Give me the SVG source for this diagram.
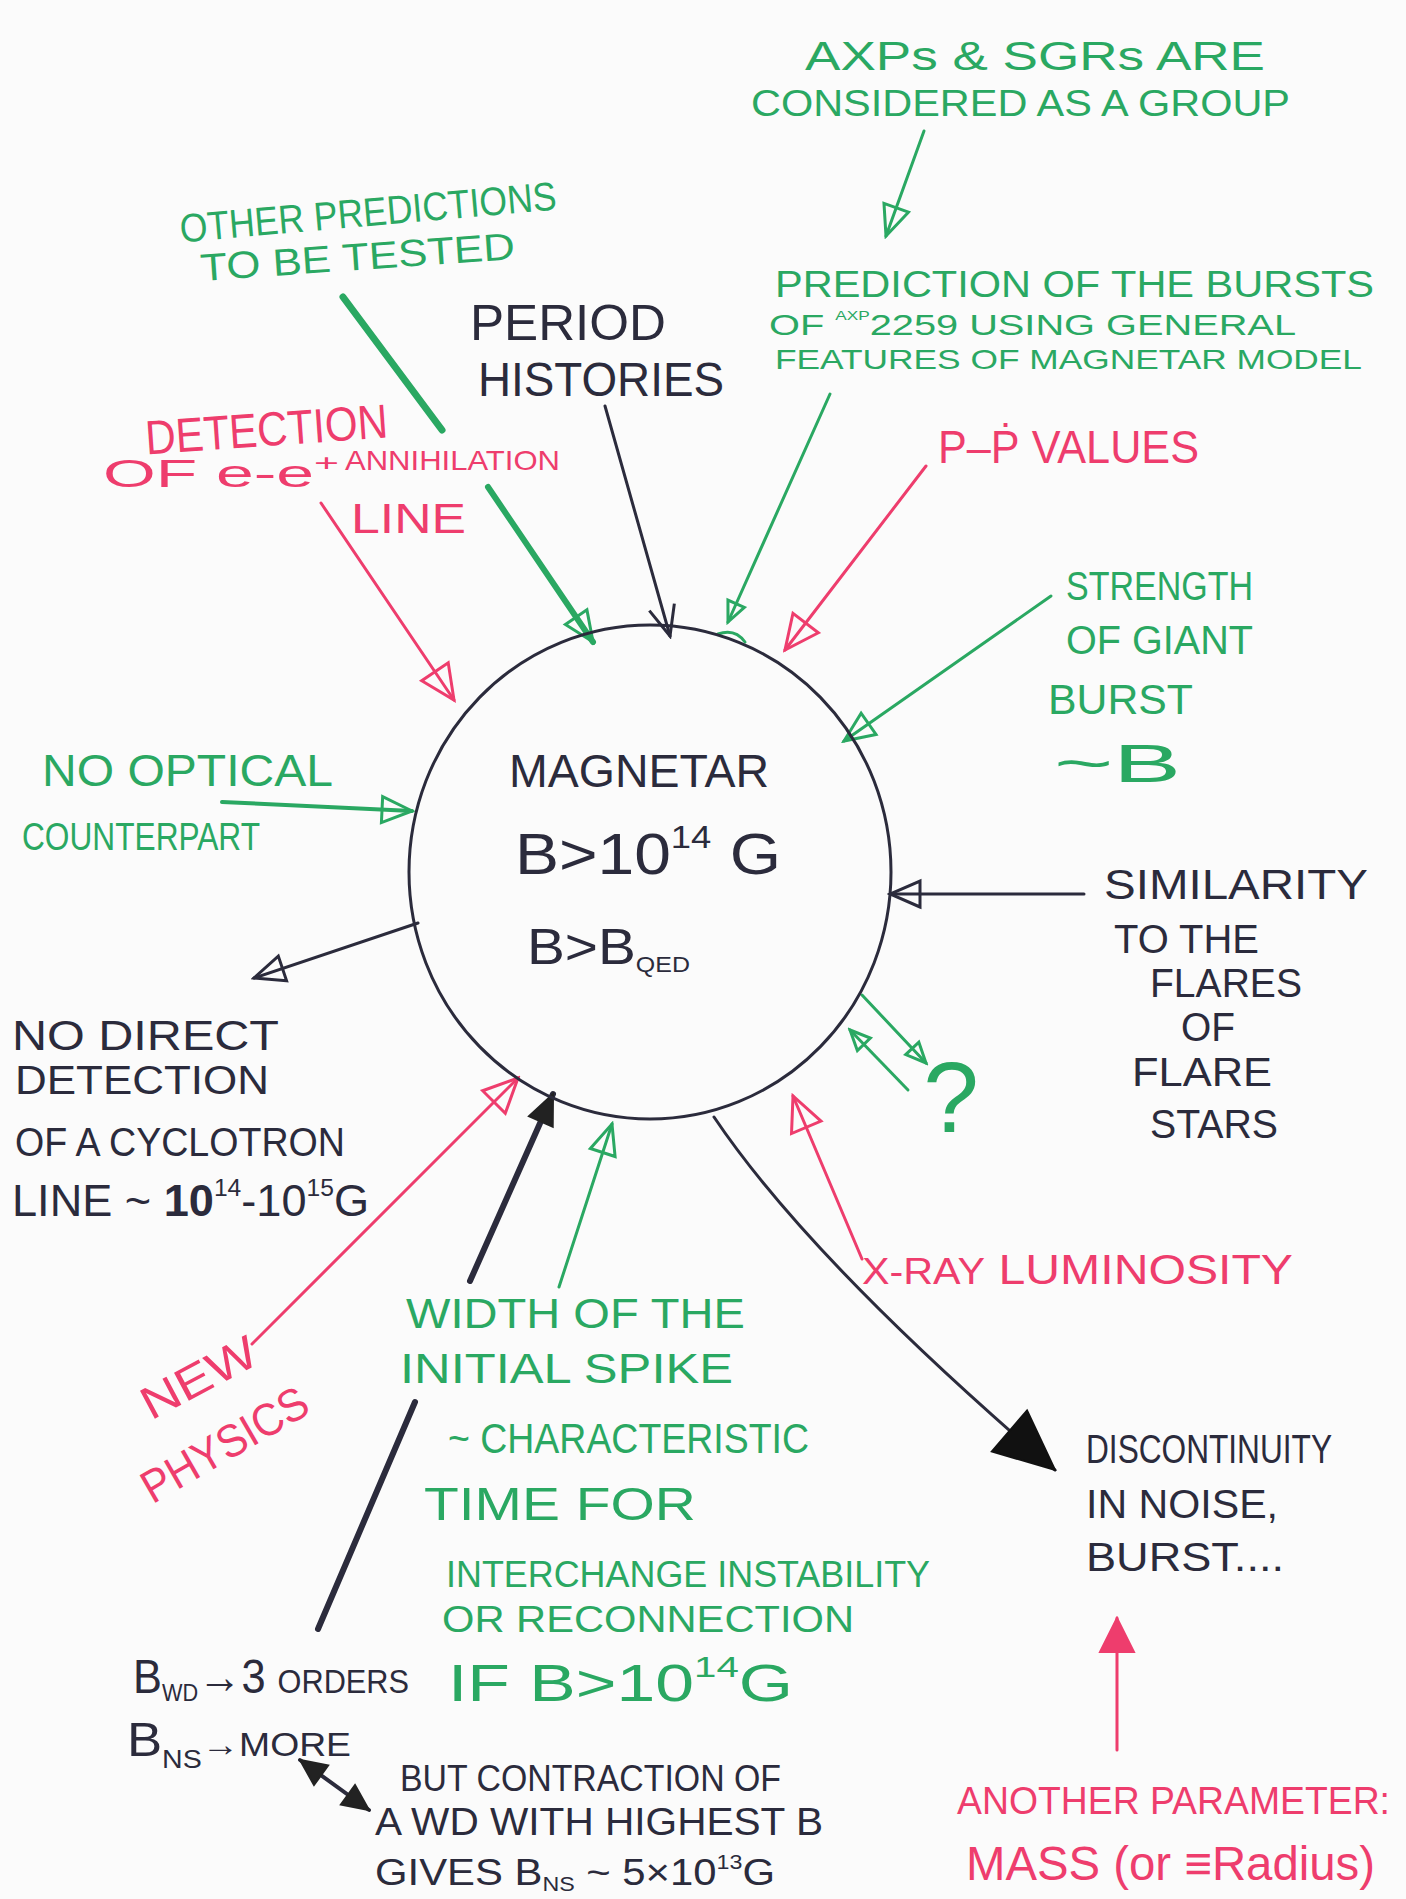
<svg xmlns="http://www.w3.org/2000/svg" width="1406" height="1899" viewBox="0 0 1406 1899">
<style>
text{font-family:"Liberation Sans","DejaVu Sans",Arial,sans-serif;}
.g{fill:#2aa862}
.r{fill:#ee3d6d}
.k{fill:#2b2b3c}
.lg{stroke:#2aa862;stroke-width:3;fill:none;stroke-linecap:round}
.lr{stroke:#ee3d6d;stroke-width:3;fill:none;stroke-linecap:round}
.lk{stroke:#2b2b3c;stroke-width:3;fill:none;stroke-linecap:round}
</style>
<defs>
<marker id="ag" viewBox="-3 -3 36 32" refX="30" refY="13" markerWidth="36" markerHeight="32" markerUnits="userSpaceOnUse" orient="auto"><path d="M0,0 L30,13 L0,26 Z" fill="none" stroke="#2aa862" stroke-width="3"/></marker>
<marker id="agS" viewBox="-3 -3 26 24" refX="20" refY="9" markerWidth="26" markerHeight="24" markerUnits="userSpaceOnUse" orient="auto"><path d="M0,0 L20,9 L0,18 Z" fill="none" stroke="#2aa862" stroke-width="3"/></marker>
<marker id="ar" viewBox="-3 -3 40 38" refX="34" refY="16" markerWidth="40" markerHeight="38" markerUnits="userSpaceOnUse" orient="auto"><path d="M0,0 L34,16 L0,32 Z" fill="none" stroke="#ee3d6d" stroke-width="3"/></marker>
<marker id="ak" viewBox="-3 -3 36 32" refX="30" refY="13" markerWidth="36" markerHeight="32" markerUnits="userSpaceOnUse" orient="auto"><path d="M0,0 L30,13 L0,26 Z" fill="none" stroke="#2b2b3c" stroke-width="3"/></marker>
<marker id="akv" viewBox="-3 -3 36 32" refX="30" refY="13" markerWidth="36" markerHeight="32" markerUnits="userSpaceOnUse" orient="auto"><path d="M0,0 L30,13 L0,26" fill="none" stroke="#2b2b3c" stroke-width="3"/></marker>
<marker id="akf" viewBox="-2 -2 64 58" refX="60" refY="27" markerWidth="64" markerHeight="58" markerUnits="userSpaceOnUse" orient="auto"><path d="M0,0 L60,27 L0,54 Z" fill="#111" stroke="#111" stroke-width="2"/></marker>
<marker id="akm" viewBox="-2 -2 34 30" refX="30" refY="13" markerWidth="34" markerHeight="30" markerUnits="userSpaceOnUse" orient="auto"><path d="M0,0 L30,13 L0,26 Z" fill="#222" stroke="#222" stroke-width="2"/></marker>
<marker id="akd" viewBox="-2 -2 30 28" refX="26" refY="12" markerWidth="30" markerHeight="28" markerUnits="userSpaceOnUse" orient="auto-start-reverse"><path d="M0,0 L26,12 L0,24 Z" fill="#222" stroke="#222" stroke-width="2"/></marker>
<marker id="arf" viewBox="-2 -2 40 38" refX="34" refY="17" markerWidth="40" markerHeight="38" markerUnits="userSpaceOnUse" orient="auto"><path d="M0,0 L34,17 L0,34 Z" fill="#ee3d6d" stroke="#ee3d6d" stroke-width="2"/></marker>
</defs>
<rect width="1406" height="1899" fill="#fbfbfb"/>

<g id="connectors">
<line class="lg" x1="924" y1="131" x2="886" y2="236" marker-end="url(#ag)"/>
<line class="lg" x1="830" y1="394" x2="728" y2="622" marker-end="url(#agS)"/>
<path class="lg" d="M718,634 Q735,628 745,642"/>
<line class="lg" x1="343" y1="297" x2="442" y2="430" style="stroke-width:7"/>
<line class="lg" x1="488" y1="487" x2="593" y2="642" style="stroke-width:6" marker-end="url(#ag)"/>
<line class="lk" x1="605" y1="406" x2="670" y2="636" marker-end="url(#akv)"/>
<line class="lr" x1="321" y1="503" x2="454" y2="700" marker-end="url(#ar)"/>
<line class="lr" x1="926" y1="466" x2="785" y2="650" marker-end="url(#ar)"/>
<line class="lg" x1="1051" y1="596" x2="844" y2="741" marker-end="url(#ag)"/>
<line class="lg" x1="222" y1="802" x2="412" y2="811" style="stroke-width:4" marker-end="url(#ag)"/>
<line class="lk" x1="418" y1="923" x2="254" y2="978" marker-end="url(#ak)"/>
<line class="lk" x1="1084" y1="894" x2="890" y2="894" marker-end="url(#ak)"/>
<line class="lg" x1="862" y1="995" x2="926" y2="1063" marker-end="url(#agS)"/>
<line class="lg" x1="908" y1="1090" x2="850" y2="1030" marker-end="url(#agS)"/>
<line class="lr" x1="862" y1="1259" x2="793" y2="1096" marker-end="url(#ar)"/>
<path class="lk" d="M714,1117 Q810,1260 1055,1470" marker-end="url(#akf)"/>
<line class="lr" x1="1117" y1="1750" x2="1117" y2="1618" marker-end="url(#arf)"/>
<line class="lg" x1="559" y1="1287" x2="612" y2="1124" marker-end="url(#ag)"/>
<line class="lk" x1="318" y1="1629" x2="415" y2="1402" style="stroke-width:6"/>
<line class="lk" x1="470" y1="1281" x2="553" y2="1094" style="stroke-width:6" marker-end="url(#akm)"/>
<line class="lr" x1="252" y1="1344" x2="518" y2="1078" marker-end="url(#ar)"/>
<line class="lk" x1="300" y1="1760" x2="369" y2="1810" style="stroke-width:4" marker-start="url(#akd)" marker-end="url(#akd)"/>
</g>

<g id="magnetar">
<ellipse cx="650" cy="872" rx="241" ry="247" fill="none" stroke="#2b2b3c" stroke-width="3"/>
<text class="k" x="509" y="787" font-size="46" textLength="260" lengthAdjust="spacingAndGlyphs">MAGNETAR</text>
<text class="k" x="515" y="874" font-size="58" textLength="266" lengthAdjust="spacingAndGlyphs">B&gt;10<tspan font-size="32" dy="-26">14</tspan><tspan dy="26"> G</tspan></text>
<text class="k" x="527" y="964" font-size="50" textLength="163" lengthAdjust="spacingAndGlyphs">B&gt;B<tspan font-size="22" dy="8">QED</tspan></text>
</g>

<g id="axps-sgrs">
<text class="g" x="805" y="70" font-size="40" textLength="460" lengthAdjust="spacingAndGlyphs">AXPs &amp; SGRs ARE</text>
<text class="g" x="751" y="116" font-size="36" textLength="539" lengthAdjust="spacingAndGlyphs">CONSIDERED AS A GROUP</text>
</g>

<g id="prediction">
<text class="g" x="775" y="297" font-size="36" textLength="599" lengthAdjust="spacingAndGlyphs">PREDICTION OF THE BURSTS</text>
<text class="g" x="769" y="335" font-size="30" textLength="527" lengthAdjust="spacingAndGlyphs">OF <tspan font-size="13" dy="-15">AXP</tspan><tspan dy="15">2259 USING GENERAL</tspan></text>
<text class="g" x="775" y="369" font-size="28" textLength="587" lengthAdjust="spacingAndGlyphs">FEATURES OF MAGNETAR MODEL</text>
</g>

<g id="other-predictions">
<text class="g" x="179" y="226" font-size="40" textLength="378" lengthAdjust="spacingAndGlyphs" transform="rotate(-5 368 212)">OTHER PREDICTIONS</text>
<text class="g" x="200" y="270" font-size="38" textLength="315" lengthAdjust="spacingAndGlyphs" transform="rotate(-4 357 256)">TO BE TESTED</text>
</g>

<g id="period-histories">
<text class="k" x="470" y="340" font-size="50" textLength="196" lengthAdjust="spacingAndGlyphs">PERIOD</text>
<text class="k" x="478" y="396" font-size="48" textLength="246" lengthAdjust="spacingAndGlyphs">HISTORIES</text>
</g>

<g id="annihilation">
<text class="r" x="145" y="446" font-size="48" textLength="243" lengthAdjust="spacingAndGlyphs" transform="rotate(-4 266 430)">DETECTION</text>
<text class="r" x="103" y="487" font-size="38" textLength="236" lengthAdjust="spacingAndGlyphs">OF  e-e<tspan font-size="24" dy="-16">+</tspan></text>
<text class="r" x="345" y="470" font-size="28" textLength="215" lengthAdjust="spacingAndGlyphs">ANNIHILATION</text>
<text class="r" x="351" y="533" font-size="42" textLength="115" lengthAdjust="spacingAndGlyphs">LINE</text>
</g>

<g id="p-pdot">
<text class="r" x="938" y="463" font-size="46" textLength="261" lengthAdjust="spacingAndGlyphs">P–Ṗ  VALUES</text>
</g>

<g id="strength">
<text class="g" x="1066" y="600" font-size="40" textLength="187" lengthAdjust="spacingAndGlyphs">STRENGTH</text>
<text class="g" x="1066" y="654" font-size="40" textLength="187" lengthAdjust="spacingAndGlyphs">OF GIANT</text>
<text class="g" x="1048" y="714" font-size="42" textLength="145" lengthAdjust="spacingAndGlyphs">BURST</text>
<text class="g" x="1054" y="782" font-size="54" textLength="127" lengthAdjust="spacingAndGlyphs">~B</text>
</g>

<g id="no-optical">
<text class="g" x="42" y="786" font-size="44" textLength="291" lengthAdjust="spacingAndGlyphs">NO  OPTICAL</text>
<text class="g" x="22" y="850" font-size="38" textLength="238" lengthAdjust="spacingAndGlyphs">COUNTERPART</text>
</g>

<g id="no-direct">
<text class="k" x="12" y="1050" font-size="42" textLength="267" lengthAdjust="spacingAndGlyphs">NO  DIRECT</text>
<text class="k" x="15" y="1094" font-size="40" textLength="254" lengthAdjust="spacingAndGlyphs">DETECTION</text>
<text class="k" x="15" y="1156" font-size="40" textLength="330" lengthAdjust="spacingAndGlyphs">OF  A  CYCLOTRON</text>
<text class="k" x="12" y="1216" font-size="44" textLength="357" lengthAdjust="spacingAndGlyphs">LINE ~ <tspan font-weight="bold">10</tspan><tspan font-size="24" dy="-20">14</tspan><tspan dy="20">-10</tspan><tspan font-size="24" dy="-20">15</tspan><tspan dy="20">G</tspan></text>
</g>

<g id="similarity">
<text class="k" x="1104" y="899" font-size="42" textLength="264" lengthAdjust="spacingAndGlyphs">SIMILARITY</text>
<text class="k" x="1114" y="953" font-size="40" textLength="145" lengthAdjust="spacingAndGlyphs">TO THE</text>
<text class="k" x="1150" y="997" font-size="40" textLength="152" lengthAdjust="spacingAndGlyphs">FLARES</text>
<text class="k" x="1181" y="1041" font-size="40" textLength="54" lengthAdjust="spacingAndGlyphs">OF</text>
<text class="k" x="1132" y="1086" font-size="40" textLength="140" lengthAdjust="spacingAndGlyphs">FLARE</text>
<text class="k" x="1150" y="1138" font-size="40" textLength="128" lengthAdjust="spacingAndGlyphs">STARS</text>
</g>

<g id="question">
<text class="g" x="951" y="1132" font-size="100" text-anchor="middle">?</text>
</g>

<g id="x-ray">
<text class="r" x="862" y="1284" font-size="42" textLength="431" lengthAdjust="spacingAndGlyphs"><tspan font-size="36">X-RAY</tspan>  LUMINOSITY</text>
</g>

<g id="width-spike">
<text class="g" x="406" y="1328" font-size="42" textLength="339" lengthAdjust="spacingAndGlyphs">WIDTH OF THE</text>
<text class="g" x="400" y="1383" font-size="42" textLength="333" lengthAdjust="spacingAndGlyphs">INITIAL  SPIKE</text>
<text class="g" x="448" y="1453" font-size="42" textLength="361" lengthAdjust="spacingAndGlyphs">~ CHARACTERISTIC</text>
<text class="g" x="424" y="1520" font-size="46" textLength="272" lengthAdjust="spacingAndGlyphs">TIME  FOR</text>
<text class="g" x="446" y="1587" font-size="36" textLength="484" lengthAdjust="spacingAndGlyphs">INTERCHANGE INSTABILITY</text>
<text class="g" x="442" y="1632" font-size="36" textLength="412" lengthAdjust="spacingAndGlyphs">OR RECONNECTION</text>
<text class="g" x="448" y="1701" font-size="52" textLength="345" lengthAdjust="spacingAndGlyphs">IF    B&gt;10<tspan font-size="30" dy="-24">14</tspan><tspan dy="24">G</tspan></text>
</g>

<g id="new-physics">
<text class="r" x="200" y="1393" font-size="46" text-anchor="middle" textLength="125" lengthAdjust="spacingAndGlyphs" transform="rotate(-28 200 1380)">NEW</text>
<text class="r" x="226" y="1460" font-size="46" text-anchor="middle" textLength="185" lengthAdjust="spacingAndGlyphs" transform="rotate(-30 226 1447)">PHYSICS</text>
</g>

<g id="discontinuity">
<text class="k" x="1086" y="1463" font-size="40" textLength="246" lengthAdjust="spacingAndGlyphs">DISCONTINUITY</text>
<text class="k" x="1086" y="1518" font-size="40" textLength="192" lengthAdjust="spacingAndGlyphs">IN  NOISE,</text>
<text class="k" x="1086" y="1571" font-size="40" textLength="198" lengthAdjust="spacingAndGlyphs">BURST....</text>
</g>

<g id="another-parameter">
<text class="r" x="957" y="1814" font-size="38" textLength="433" lengthAdjust="spacingAndGlyphs">ANOTHER PARAMETER:</text>
<text class="r" x="966" y="1880" font-size="48" textLength="409" lengthAdjust="spacingAndGlyphs">MASS (or ≡Radius)</text>
</g>

<g id="bwd-bns">
<text class="k" x="133" y="1693" font-size="48" textLength="276" lengthAdjust="spacingAndGlyphs">B<tspan font-size="24" dy="8">WD</tspan><tspan dy="-8">→3 </tspan><tspan font-size="34">ORDERS</tspan></text>
<text class="k" x="127" y="1756" font-size="48" textLength="224" lengthAdjust="spacingAndGlyphs">B<tspan font-size="26" dy="12">NS</tspan><tspan dy="-12" font-size="34">→MORE</tspan></text>
</g>

<g id="contraction">
<text class="k" x="400" y="1791" font-size="36" textLength="381" lengthAdjust="spacingAndGlyphs">BUT CONTRACTION OF</text>
<text class="k" x="375" y="1835" font-size="38" textLength="448" lengthAdjust="spacingAndGlyphs">A WD WITH HIGHEST B</text>
<text class="k" x="375" y="1885" font-size="36" textLength="400" lengthAdjust="spacingAndGlyphs">GIVES  B<tspan font-size="20" dy="6">NS</tspan><tspan dy="-6"> ~ 5×10</tspan><tspan font-size="20" dy="-16">13</tspan><tspan dy="16">G</tspan></text>
</g>
</svg>
